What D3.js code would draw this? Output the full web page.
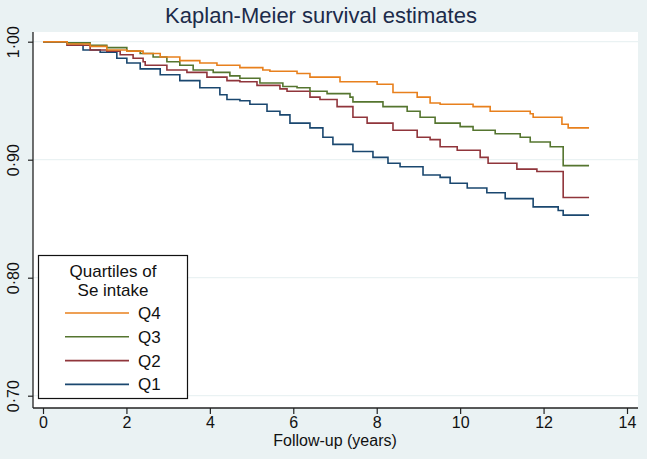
<!DOCTYPE html>
<html>
<head>
<meta charset="utf-8">
<script src="https://cdn.jsdelivr.net/npm/d3@7"></script>
<style>
  body { margin: 0; background: #eaf2f3; }
  text { font-family: "Liberation Sans", Arial, sans-serif; }
</style>
</head>
<body>
<div id="chart"></div>
<script>
// survival estimates (time in years, S(t))
var q1Time = [0, 0.58, 0.96, 1.37, 1.77, 2.01, 2.33, 2.81, 3.28, 3.76, 4.24, 4.41, 4.72, 4.96, 5.37, 5.68, 5.92, 6.40, 6.71, 6.95, 7.43, 7.91, 8.27, 8.56, 9.11, 9.52, 9.76, 10.17, 10.64, 11.08, 11.75, 12.35, 12.47, 13.09];
var q1Surv = [1, 0.997, 0.993, 0.991, 0.986, 0.982, 0.977, 0.972, 0.967, 0.961, 0.955, 0.951, 0.950, 0.947, 0.941, 0.938, 0.931, 0.927, 0.919, 0.913, 0.907, 0.902, 0.897, 0.894, 0.887, 0.885, 0.880, 0.876, 0.872, 0.867, 0.860, 0.857, 0.853, 0.853];

var q2Time = [0, 0.58, 1.13, 1.53, 1.85, 2.16, 2.40, 2.45, 2.97, 3.45, 3.93, 4.41, 4.72, 5.13, 5.68, 5.85, 6.40, 6.64, 7.05, 7.43, 7.77, 8.39, 8.97, 9.28, 9.52, 9.93, 10.48, 10.67, 11.36, 11.84, 12.47, 13.09];
var q2Surv = [1, 0.997, 0.993, 0.992, 0.989, 0.986, 0.983, 0.980, 0.976, 0.974, 0.970, 0.967, 0.966, 0.963, 0.960, 0.958, 0.953, 0.951, 0.945, 0.936, 0.931, 0.925, 0.919, 0.917, 0.911, 0.908, 0.902, 0.897, 0.892, 0.890, 0.868, 0.868];

var q3Time = [0, 0.58, 1.13, 1.53, 2.01, 2.33, 2.64, 2.97, 3.28, 3.60, 4.08, 4.48, 4.72, 5.20, 5.75, 6.09, 6.40, 6.81, 7.36, 7.43, 8.15, 8.73, 9.04, 9.40, 10.00, 10.31, 10.84, 11.44, 11.68, 12.16, 12.47, 13.09];
var q3Surv = [1, 0.999, 0.997, 0.995, 0.992, 0.990, 0.987, 0.983, 0.980, 0.976, 0.974, 0.971, 0.969, 0.965, 0.962, 0.961, 0.958, 0.956, 0.953, 0.949, 0.945, 0.941, 0.936, 0.931, 0.928, 0.925, 0.922, 0.919, 0.915, 0.911, 0.895, 0.895];

var q4Time = [0, 0.58, 1.13, 1.53, 2.01, 2.40, 2.81, 3.28, 3.76, 4.17, 4.72, 5.27, 5.44, 6.09, 6.40, 7.12, 8.01, 8.39, 8.97, 9.28, 9.52, 10.31, 10.72, 11.68, 11.75, 12.44, 12.59, 13.09];
var q4Surv = [1, 0.998, 0.996, 0.993, 0.992, 0.990, 0.987, 0.984, 0.982, 0.980, 0.978, 0.976, 0.975, 0.973, 0.970, 0.966, 0.964, 0.957, 0.953, 0.948, 0.947, 0.945, 0.941, 0.939, 0.936, 0.930, 0.927, 0.927];

var xTicks = [0, 2, 4, 6, 8, 10, 12, 14];
var yTicks = [0.70, 0.80, 0.90, 1.00];
var yTickLabels = ["0·70", "0·80", "0·90", "1·00"];

var legendTitle = ["Quartiles of", "Se intake"];
var legendNames = ["Q4", "Q3", "Q2", "Q1"];

var series = [
  { name: "Q1", time: q1Time, surv: q1Surv, color: "#1a476f" },
  { name: "Q2", time: q2Time, surv: q2Surv, color: "#90353b" },
  { name: "Q3", time: q3Time, surv: q3Surv, color: "#55752f" },
  { name: "Q4", time: q4Time, surv: q4Surv, color: "#e8801d" }
];

var svgWidth = 647, svgHeight = 459;

// plot region (white box)
var plot = { left: 33, right: 638, top: 32, bottom: 408 };

var svg = d3.select("#chart")
  .append("svg")
  .attr("width", svgWidth)
  .attr("height", svgHeight);

svg.append("rect")
  .attr("width", svgWidth)
  .attr("height", svgHeight)
  .attr("fill", "#eaf2f3");

svg.append("rect")
  .attr("x", plot.left)
  .attr("y", plot.top)
  .attr("width", plot.right - plot.left)
  .attr("height", plot.bottom - plot.top)
  .attr("fill", "white");

var xScale = d3.scaleLinear().domain([0, 14]).range([43, 627]);
var yScale = d3.scaleLinear().domain([0.70, 1.00]).range([395.7, 41.7]);

// gridlines
svg.append("g")
  .selectAll("line")
  .data(yTicks)
  .enter()
  .append("line")
  .attr("x1", plot.left)
  .attr("x2", plot.right)
  .attr("y1", d => yScale(d))
  .attr("y2", d => yScale(d))
  .attr("stroke", "#eaf2f3")
  .attr("stroke-width", 1.2);

// curves
var line = d3.line()
  .x(d => xScale(d[0]))
  .y(d => yScale(d[1]))
  .curve(d3.curveStepAfter);

svg.append("g")
  .selectAll("path")
  .data(series)
  .enter()
  .append("path")
  .attr("d", s => line(s.time.map((t, i) => [t, s.surv[i]])))
  .attr("fill", "none")
  .attr("stroke", s => s.color)
  .attr("stroke-width", 1.6);

// axes
var xAxis = d3.axisBottom(xScale).tickValues(xTicks).tickSize(6).tickPadding(3).tickSizeOuter(0);
var yAxis = d3.axisLeft(yScale).tickValues(yTicks).tickSize(5).tickFormat((d, i) => yTickLabels[i]).tickSizeOuter(0);

var gx = svg.append("g")
  .attr("transform", `translate(0, ${plot.bottom})`)
  .call(xAxis);
gx.select(".domain").remove();
gx.append("line")
  .attr("x1", plot.left).attr("x2", plot.right)
  .attr("stroke", "#222").attr("stroke-width", 1.3);
gx.selectAll(".tick line").attr("stroke", "#222").attr("stroke-width", 1.2);
gx.selectAll(".tick text")
  .attr("font-size", "16px")
  .attr("fill", "#111")
  .attr("font-family", "Liberation Sans, Arial, sans-serif");

var gy = svg.append("g")
  .attr("transform", `translate(${plot.left}, 0)`)
  .call(yAxis);
gy.select(".domain").remove();
gy.append("line")
  .attr("y1", plot.top).attr("y2", plot.bottom)
  .attr("stroke", "#222").attr("stroke-width", 1.3);
gy.selectAll(".tick line").attr("stroke", "#222").attr("stroke-width", 1.2);
gy.selectAll(".tick text")
  .attr("font-size", "16px")
  .attr("fill", "#111")
  .attr("font-family", "Liberation Sans, Arial, sans-serif")
  .attr("text-anchor", "middle")
  .attr("x", null)
  .attr("dy", null)
  .attr("transform", "translate(-18, 0) rotate(-90)")
  .attr("dominant-baseline", "middle");

// title
svg.append("text")
  .attr("x", 321)
  .attr("y", 23)
  .attr("text-anchor", "middle")
  .attr("font-size", "22px")
  .attr("fill", "#1c2b4a")
  .text("Kaplan-Meier survival estimates");

// x axis title
svg.append("text")
  .attr("x", 335)
  .attr("y", 446)
  .attr("text-anchor", "middle")
  .attr("font-size", "16px")
  .attr("fill", "#111")
  .text("Follow-up (years)");

// legend
var legend = svg.append("g");
legend.append("rect")
  .attr("x", 38.5)
  .attr("y", 255.5)
  .attr("width", 149)
  .attr("height", 143)
  .attr("fill", "white")
  .attr("stroke", "#111")
  .attr("stroke-width", 1.2);

legend.selectAll(".ltitle")
  .data(legendTitle)
  .enter()
  .append("text")
  .attr("class", "ltitle")
  .attr("x", 113)
  .attr("y", (d, i) => 277 + i * 19)
  .attr("text-anchor", "middle")
  .attr("font-size", "17px")
  .attr("fill", "#111")
  .text(d => d);

var colorByName = {};
series.forEach(s => { colorByName[s.name] = s.color; });

var entries = legend.selectAll(".entry")
  .data(legendNames)
  .enter()
  .append("g")
  .attr("class", "entry")
  .attr("transform", (d, i) => `translate(0, ${313 + i * 23.8})`);

entries.append("line")
  .attr("x1", 65).attr("x2", 129)
  .attr("stroke", d => colorByName[d])
  .attr("stroke-width", 1.6);

entries.append("text")
  .attr("x", 138)
  .attr("y", 6)
  .attr("font-size", "17px")
  .attr("fill", "#111")
  .text(d => d);
</script>
</body>
</html>
